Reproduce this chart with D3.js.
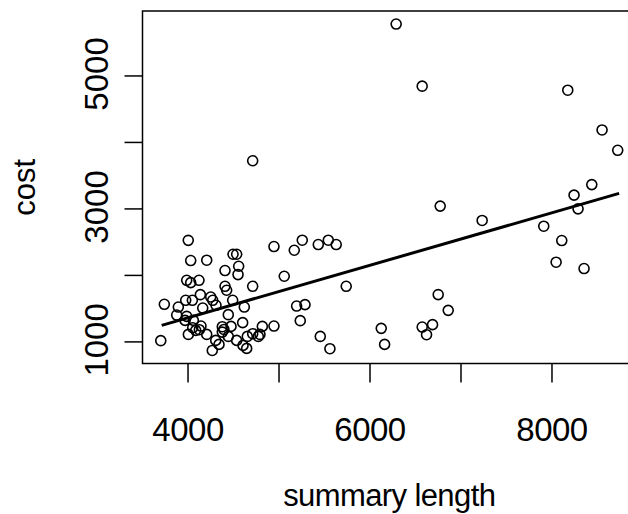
<!DOCTYPE html>
<html>
<head>
<meta charset="utf-8">
<script src="https://cdn.jsdelivr.net/npm/d3@7"></script>
<style>
  html, body { margin: 0; padding: 0; background: #ffffff; }
  svg { display: block; }
  text { font-family: "Liberation Sans", Arial, Helvetica, sans-serif; fill: #000; }
</style>
</head>
<body>
<svg id="chart" width="628" height="514"></svg>
<script>
// ---- data ----
const summaryLength = [
  6293, 6579, 8179, 8556, 8728, 8443, 8248, 6777, 7238, 8292, 7915, 8113, 8051, 8358,
  6755, 6865, 6579, 6693, 6627, 6129, 6166, 4716,
  4950, 5173, 5261, 5437, 5547, 5634, 5063, 5744, 4716, 5199, 5291, 5239, 4950, 4822, 4796, 5459, 5565,
  4008, 4035, 4211, 4500, 4540, 4562, 4555, 4412, 3991, 4035, 4126, 4412, 4430,
  3745, 3706, 3899, 3881, 3980, 4053, 3991, 3973, 4141, 4167, 4255, 4277, 4313, 4496, 4624, 4448,
  4064, 4009, 4057, 4090, 4130, 4148, 4211, 4382, 4382, 4400, 4310, 4346, 4272, 4448, 4478, 4540,
  4606, 4610, 4650, 4657, 4716, 4778
];
const cost = [
  5773, 4839, 4778, 4180, 3874, 3358, 3200, 3035, 2819, 2994, 2733, 2517, 2191, 2096,
  1704, 1467, 1216, 1252, 1101, 1196, 955, 3717,
  2427, 2371, 2522, 2457, 2522, 2457, 1980, 1829, 1829, 1532, 1553, 1312, 1231, 1226, 1105, 1075, 890,
  2520, 2216, 2221, 2311, 2311, 2130, 2005, 2066, 1919, 1884, 1919, 1829, 1769,
  1558, 1011, 1517, 1396, 1618, 1618, 1377, 1316, 1703, 1502, 1668, 1618, 1543, 1618, 1517, 1402,
  1316, 1105, 1206, 1166, 1176, 1231, 1105, 1221, 1140, 1180, 1015, 955, 864, 1075, 1226, 1015,
  1282, 940, 895, 1075, 1116, 1075
];
// fitted line end points (x range of data)
const fitX = [3716, 8743];
const fitY = [1241, 3226];
const xTicks = [4000, 5000, 6000, 7000, 8000];
const xTickLabels = ["4000", "", "6000", "", "8000"];
const yTicks = [1000, 2000, 3000, 4000, 5000];
const yTickLabels = ["1000", "", "3000", "", "5000"];
const xTitle = "summary length";
const yTitle = "cost";

// ---- layout ----
const svg = d3.select("#chart");
const plot = { left: 142.5, right: 636, top: 11, bottom: 363.5 };

const pad = (arr) => {
  const [a, b] = d3.extent(arr);
  const e = (b - a) * 0.04;
  return [a - e, b + e];
};

const x = d3.scaleLinear().domain(pad(summaryLength)).range([plot.left, plot.right]);
const y = d3.scaleLinear().domain(pad(cost)).range([plot.bottom, plot.top]);

// box
svg.append("rect")
  .attr("x", plot.left).attr("y", plot.top)
  .attr("width", plot.right - plot.left).attr("height", plot.bottom - plot.top)
  .attr("fill", "none").attr("stroke", "#000").attr("stroke-width", 1.5);

// x axis
const xAxis = d3.axisBottom(x)
  .tickValues(xTicks)
  .tickSize(19)
  .tickPadding(0)
  .tickFormat((d, i) => xTickLabels[i]);
const gx = svg.append("g").attr("transform", `translate(0,${plot.bottom})`).call(xAxis);
gx.select(".domain").remove();
gx.selectAll(".tick line").attr("stroke", "#000").attr("stroke-width", 1.5);
gx.selectAll(".tick text")
  .attr("y", 0).attr("dy", 0)
  .attr("transform", "translate(0,77)")
  .style("font-size", "33px")
  .style("letter-spacing", "-0.5px")
  .style("font-family", '"Liberation Sans", Arial, sans-serif')
  .attr("fill", "#000");

// y axis
const yAxis = d3.axisLeft(y)
  .tickValues(yTicks)
  .tickSize(18)
  .tickPadding(0)
  .tickFormat((d, i) => yTickLabels[i]);
const gy = svg.append("g").attr("transform", `translate(${plot.left},0)`).call(yAxis);
gy.select(".domain").remove();
gy.selectAll(".tick line").attr("stroke", "#000").attr("stroke-width", 1.5);
gy.selectAll(".tick text")
  .attr("x", 0).attr("dy", 0)
  .attr("text-anchor", "middle")
  .attr("transform", "translate(-35,-2) rotate(-90)")
  .style("font-size", "33px")
  .style("font-family", '"Liberation Sans", Arial, sans-serif')
  .attr("fill", "#000");

// axis titles
svg.append("text")
  .attr("x", (plot.left + plot.right) / 2)
  .attr("y", 506)
  .attr("text-anchor", "middle")
  .style("font-size", "31px")
  .style("letter-spacing", "-0.6px")
  .text(xTitle);

svg.append("text")
  .attr("transform", `translate(35,${(plot.top + plot.bottom) / 2}) rotate(-90)`)
  .attr("text-anchor", "middle")
  .style("font-size", "31px")
  .text(yTitle);

// points
const pts = summaryLength.map((v, i) => ({ x: v, y: cost[i] }));
svg.append("g").selectAll("circle")
  .data(pts)
  .join("circle")
  .attr("cx", d => x(d.x))
  .attr("cy", d => y(d.y))
  .attr("r", 5)
  .attr("fill", "none")
  .attr("stroke", "#000")
  .attr("stroke-width", 1.6);

// fitted line
svg.append("path")
  .datum(fitX.map((v, i) => ({ x: v, y: fitY[i] })))
  .attr("d", d3.line().x(d => x(d.x)).y(d => y(d.y)))
  .attr("fill", "none")
  .attr("stroke", "#000")
  .attr("stroke-width", 3);
</script>
</body>
</html>
